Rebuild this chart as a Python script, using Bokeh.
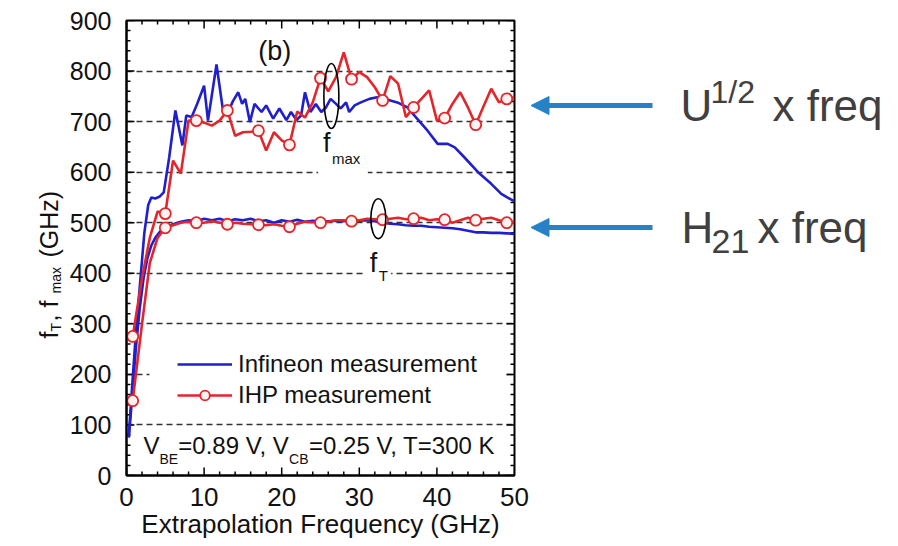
from bokeh.plotting import figure
from bokeh.layouts import row
from bokeh.models import (Range1d, SingleIntervalTicker, Label, Legend,
                          LegendItem, BoxAnnotation, Arrow, NormalHead)
from bokeh.embed import file_html
from bokeh.resources import INLINE
import math

# ---------------- data ----------------
inf_fmax_freq = [0.3, 0.7, 1.2, 1.8, 2.3, 2.8, 3.2, 3.7, 4.3, 4.8,
                 5.5, 6.3, 7.2, 7.7, 8.4, 9.1, 10.0, 10.5, 11.6, 12.4,
                 13.1, 13.7, 14.4, 14.9, 15.3, 15.9, 16.5, 17.4, 18.0, 18.9,
                 19.7, 20.6, 21.2, 21.9, 22.5, 23.0, 23.7, 24.4, 25.1, 25.7,
                 26.3, 27.0, 27.6, 28.3, 28.7, 29.4, 30.2, 31.3, 32.3, 33.2,
                 34.9, 36.2, 37.5, 38.8, 40.1, 41.4, 42.3, 43.5, 45.3, 47.0,
                 48.3, 50.0]
inf_fmax = [80, 170, 280, 390, 480, 535, 550, 548, 552, 560,
            629, 722, 653, 712, 709, 735, 771, 702, 813, 726,
            719, 740, 758, 735, 745, 699, 735, 719, 732, 706,
            726, 703, 719, 703, 712, 758, 719, 735, 719, 728,
            745, 735, 726, 738, 719, 732, 738, 745, 748, 745,
            738, 728, 705, 682, 656, 656, 649, 630, 600, 577,
            557, 542]

inf_ft_freq = [0.3, 0.7, 1.2, 1.7, 2.2, 2.7, 3.2, 3.7, 4.3,
               5, 6, 7, 8, 9, 10, 11, 12, 13, 14, 15, 16, 17, 18, 19, 20,
               21, 22, 23, 24, 25, 26, 27, 28, 29, 30, 31, 32, 33, 34, 35,
               36, 37, 38, 39, 40, 41, 42, 43, 44, 45, 46, 47, 48, 49, 50]
inf_ft = [75, 150, 250, 330, 390, 430, 455, 470, 482,
          490, 497, 502, 505, 503, 508, 505, 508, 503, 507, 505, 508, 503, 505, 500, 505,
          502, 506, 502, 504, 502, 503, 504, 503, 505, 504, 505, 503, 500, 498, 497,
          495, 494, 494, 492, 491, 490, 489, 487, 484, 481, 481, 480, 480, 479, 478]

ihp_freq = [0.8, 2, 3, 4, 5, 6, 7, 8, 9, 10, 11, 12, 13, 14, 15, 16, 17, 18, 19, 20,
            21, 22, 23, 24, 25, 26, 27, 28, 29, 30, 31, 32, 33, 34, 35, 36, 37, 38, 39, 40,
            41, 42, 43, 44, 45, 46, 47, 48, 49, 50]
ihp_fmax = [275, 390, 470, 522, 518, 623, 597, 702, 702, 698, 692, 702, 722, 672, 679, 680, 682, 643, 679, 663,
            654, 720, 708, 738, 786, 760, 788, 837, 784, 798, 788, 768, 742, 790, 775, 709, 728, 745, 762, 702,
            707, 735, 758, 728, 694, 730, 765, 738, 745, 748]
ihp_ft = [148, 300, 420, 470, 490, 495, 500, 502, 500, 500, 503, 500, 497, 500, 498, 497, 496, 495, 497, 494,
          492, 498, 502, 501, 500, 502, 505, 505, 503, 505, 508, 507, 506, 508, 510, 507, 508, 510, 505, 507,
          506, 500, 505, 510, 505, 508, 510, 505, 500, 503]
marker_step = 4

x_major_ticks = list(range(0, 51, 10))
x_minor_ticks = [v for v in range(0, 51, 2) if v % 10]
y_major_ticks = list(range(0, 901, 100))
y_minor_ticks = [v for v in range(0, 901, 20) if v % 100]

BLUE = "#1f1fcc"
RED = "#e3262b"
ARROW = "#2582c9"
FONT = "Liberation Sans"
H = 544
TOP, BOTTOM = 20, 69
LEFT_W = 66          # y-title strip
MAIN_L, MAIN_R = 59, 16
FRAME_W = 389
FRAME_H = H - TOP - BOTTOM
MAIN_W = MAIN_L + FRAME_W + MAIN_R
RIGHT_W = 896 - LEFT_W - MAIN_W
LIFT = 0.35          # baseline correction (fraction of font size)

# ---------------- main figure ----------------
X0, X1, Y0, Y1 = 0, 50, 0, 900
p = figure(width=MAIN_W, height=H, output_backend="svg", toolbar_location=None,
           x_range=Range1d(X0, X1), y_range=Range1d(Y0, Y1),
           min_border_left=MAIN_L, min_border_right=MAIN_R, min_border_top=TOP,
           min_border_bottom=BOTTOM)
p.background_fill_color = "white"
p.border_fill_color = "white"
p.outline_line_color = "black"
p.outline_line_width = 2
p.xgrid.visible = False
p.ygrid.grid_line_color = "#333333"
p.ygrid.grid_line_dash = "6 4"
p.ygrid.grid_line_width = 1.3
p.ygrid.ticker = SingleIntervalTicker(interval=100)

for ax, size in ((p.xaxis[0], "26px"), (p.yaxis[0], "25px")):
    ax.major_tick_in = 0
    ax.major_tick_out = 0
    ax.minor_tick_in = 0
    ax.minor_tick_out = 0
    ax.major_tick_line_color = None
    ax.minor_tick_line_color = None
    ax.axis_line_color = "black"
    ax.axis_line_width = 2
    ax.major_label_text_font = FONT
    ax.major_label_text_font_size = size
    ax.major_label_text_color = "#111111"
p.xaxis[0].ticker = SingleIntervalTicker(interval=10)
p.yaxis[0].ticker = SingleIntervalTicker(interval=100)
p.xaxis[0].major_label_standoff = 12
p.yaxis[0].major_label_standoff = 15
p.xaxis[0].axis_label = "Extrapolation Frequency (GHz)"
p.xaxis[0].axis_label_text_font = FONT
p.xaxis[0].axis_label_text_font_size = "26px"
p.xaxis[0].axis_label_text_font_style = "normal"
p.xaxis[0].axis_label_text_color = "#111111"
p.xaxis[0].axis_label_standoff = 0

# white patches that interrupt the dashed grid lines behind texts
for l, r, b, t in [(2.96, 48.97, 180, 220), (24.7, 31.1, 585, 615), (30.5, 34.1, 388, 412)]:
    p.add_layout(BoxAnnotation(left=l, right=r, bottom=b, top=t, fill_color="white",
                               fill_alpha=1, line_color=None, level="underlay"))

# inward ticks on all four sides of the frame
px_x = (X1 - X0) / FRAME_W
px_y = (Y1 - Y0) / FRAME_H
for ticks, ln in ((x_major_ticks, 8), (x_minor_ticks, 4)):
    L = ln * px_y
    p.segment(x0=ticks, y0=[Y0] * len(ticks), x1=ticks, y1=[Y0 + L] * len(ticks),
              line_color="black", line_width=1.5)
    p.segment(x0=ticks, y0=[Y1] * len(ticks), x1=ticks, y1=[Y1 - L] * len(ticks),
              line_color="black", line_width=1.5)
for ticks, ln in ((y_major_ticks, 8), (y_minor_ticks, 4)):
    L = ln * px_x
    p.segment(x0=[X0] * len(ticks), y0=ticks, x1=[X0 + L] * len(ticks), y1=ticks,
              line_color="black", line_width=1.5)
    p.segment(x0=[X1] * len(ticks), y0=ticks, x1=[X1 - L] * len(ticks), y1=ticks,
              line_color="black", line_width=1.5)

# ---------------- data glyphs ----------------
r_inf_fmax = p.line(inf_fmax_freq, inf_fmax, line_color=BLUE, line_width=2.6)
r_inf_ft = p.line(inf_ft_freq, inf_ft, line_color=BLUE, line_width=2.6)
r_ihp_fmax = p.line(ihp_freq, ihp_fmax, line_color=RED, line_width=2.6)
r_ihp_ft = p.line(ihp_freq, ihp_ft, line_color=RED, line_width=2.6)
r_ihp_fmax_m = p.scatter(ihp_freq[::marker_step], ihp_fmax[::marker_step], size=11,
                         fill_color="#fff4f2", line_color=RED, line_width=1.8)
r_ihp_ft_m = p.scatter(ihp_freq[::marker_step], ihp_ft[::marker_step], size=11,
                       fill_color="#fff4f2", line_color=RED, line_width=1.8)

# ellipses marking the two curve groups
p.ellipse(x=[26.4, 32.45], y=[750.6, 508], width=[1.93, 1.93], height=[128.6, 79],
          fill_color=None, line_color="black", line_width=1.6)

legend = Legend(items=[LegendItem(label="Infineon measurement", renderers=[r_inf_fmax]),
                       LegendItem(label="IHP measurement", renderers=[r_ihp_fmax, r_ihp_fmax_m])],
                location=(51, 66), padding=8, spacing=3, glyph_width=55, glyph_height=24,
                label_height=24, label_standoff=6, label_text_font=FONT,
                label_text_font_size="24px", label_text_color="#111111",
                background_fill_color="white", background_fill_alpha=1.0,
                border_line_color=None)
p.add_layout(legend)


def add_text(fig, x, y, text, size, angle=0.0, color="#111111", unit_y=1.0, unit_x=1.0):
    # (x, y) is the intended baseline start; correct the renderer's baseline offset
    if angle == 0.0:
        y = y + LIFT * size * unit_y
    else:
        x = x - LIFT * size * unit_x
    fig.add_layout(Label(x=x, y=y, text=text, text_font=FONT, text_font_size=f"{size}px",
                         text_color=color, angle=angle, text_align="left",
                         text_baseline="alphabetic"))


def ptext(x, y, text, size):
    add_text(p, x, y, text, size, unit_y=px_y)


ptext(16.97, 820.8, "(b)", 27)
ptext(25.32, 638.8, "f", 27)
ptext(26.48, 617.0, "max", 15)
ptext(31.36, 401.5, "f", 27)
ptext(32.52, 385.7, "T", 15)

ptext(2.19, 43.5, "V", 24)
ptext(4.24, 23.7, "BE", 14)
ptext(6.68, 43.5, "=0.89 V, V", 24)
ptext(20.95, 23.7, "CB", 14)
ptext(23.52, 43.5, "=0.25 V, T=300 K", 24)


def blank_fig(w):
    # frame spans the same rows as the main plot frame; coordinates are page pixels
    f = figure(width=w, height=H, output_backend="svg", toolbar_location=None,
               x_range=Range1d(0, w), y_range=Range1d(BOTTOM, H - TOP),
               x_axis_type=None, y_axis_type=None, min_border_left=0,
               min_border_right=0, min_border_top=TOP, min_border_bottom=BOTTOM)
    f.outline_line_color = None
    f.background_fill_color = "white"
    f.border_fill_color = "white"
    f.grid.visible = False
    return f


# ---------------- y-axis title (left strip) ----------------
left = blank_fig(LEFT_W)
rot = math.pi / 2
add_text(left, 57, 206, "f", 25, angle=rot)
add_text(left, 60, 213, "T", 14, angle=rot)
add_text(left, 57, 223, ",", 25, angle=rot)
add_text(left, 57, 237, "f", 25, angle=rot)
add_text(left, 60, 251, "max", 14, angle=rot)
add_text(left, 57, 287, "(GHz)", 25, angle=rot)

# ---------------- right-side annotations (x = page x - 530) ----------------
right = blank_fig(RIGHT_W)
GRAY = "#404040"
add_text(right, 150, 424, "U", 44, color=GRAY)
add_text(right, 180, 441, "1/2", 32, color=GRAY)
add_text(right, 242, 424, "x freq", 44, color=GRAY)
add_text(right, 151, 302, "H", 44, color=GRAY)
add_text(right, 181, 291, "21", 34, color=GRAY)
add_text(right, 227, 302, "x freq", 44, color=GRAY)
for yy in (439, 317):
    right.add_layout(Arrow(end=NormalHead(size=18, fill_color=ARROW, line_color=ARROW),
                           x_start=122, y_start=yy, x_end=0.5, y_end=yy,
                           line_color=ARROW, line_width=5))

layout = row(left, p, right)
open("out.html", "w").write(file_html(layout, INLINE))
